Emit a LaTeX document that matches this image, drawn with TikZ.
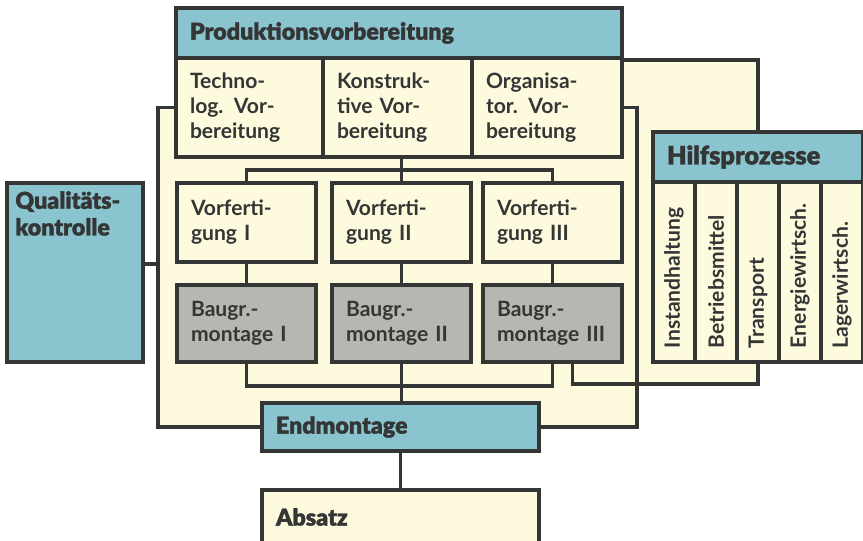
\documentclass[tikz,border=0pt]{standalone}
\usepackage{fontspec}
\setmainfont{Lato}
\newfontfamily\heavyfont[FakeBold=1.4]{Lato Black}

\definecolor{paper}{RGB}{253,250,222}
\definecolor{cyanish}{RGB}{138,196,206}
\definecolor{stone}{RGB}{184,182,176}
\definecolor{ink}{RGB}{52,54,54}

\tikzset{
  cell/.style={draw=ink, line width=2.8pt, fill=paper, align=left, text=ink,
    inner xsep=0.35cm, inner ysep=0pt, font=\bfseries\fontsize{15}{17.8}\selectfont},
  title/.style={cell, font=\heavyfont\fontsize{16.5}{19}\selectfont},
  head/.style={title, fill=cyanish},
  part/.style={cell, fill=stone},
  link/.style={draw=ink, line width=2.8pt},
}

\begin{document}
\begin{tikzpicture}
  \useasboundingbox (0,0) rectangle (21.575,13.5);
  % pale ground behind the production block
  \fill[paper] (3.95,10.8125) -- (4.4,10.8125) -- (4.4,12.05) -- (18.95,12.05)
    -- (18.95,10.2) -- (16.325,10.2) -- (16.325,4.45) -- (18.95,4.45)
    -- (18.95,3.95) -- (15.925,3.95) -- (15.925,2.8) -- (3.95,2.8) -- cycle;
  \coordinate (lbar) at (3.95,10.8125);
  \coordinate (rbar) at (15.925,10.8125);

  % preparation
  \node[head, text width=10.45cm, minimum height=1.25cm] (prod) at (9.975,12.675) {Produktionsvorbereitung};
  \node[cell, text width=2.975cm, minimum height=2.475cm] (tech) at (6.2375,10.8125) {Techno-\\log. Vor-\\bereitung};
  \node[cell, text width=3.025cm, minimum height=2.475cm] (kons) at (9.9375,10.8125) {Konstruk-\\tive Vor-\\bereitung};
  \node[cell, text width=3.05cm, minimum height=2.475cm] (orga) at (13.675,10.8125) {Organisa-\\tor. Vor-\\bereitung};

  % manufacturing rows
  \node[cell, text width=2.775cm, minimum height=1.975cm] (vor1) at (6.1625,7.9375) {Vorferti-\\gung I};
  \node[cell, text width=2.775cm, minimum height=1.975cm] (vor2) at (10.0375,7.9375) {Vorferti-\\gung II};
  \node[cell, text width=2.775cm, minimum height=1.975cm] (vor3) at (13.8125,7.9375) {Vorferti-\\gung III};
  \node[part, text width=2.775cm, minimum height=1.925cm] (bg1) at (6.1625,5.4125) {Baugr.-\\montage I};
  \node[part, text width=2.775cm, minimum height=1.925cm] (bg2) at (10.0375,5.4125) {Baugr.-\\montage II};
  \node[part, text width=2.775cm, minimum height=1.925cm] (bg3) at (13.8125,5.4125) {Baugr.-\\montage III};

  \node[head, text width=6.225cm, minimum height=1.2cm] (endm) at (10.0125,2.825) {Endmontage};
  \node[title, text width=6.225cm, minimum height=1.35cm] (absatz) at (10.0125,0.575) {Absatz};

  % quality control, text sits at the top
  \node[head, text width=2.7cm, minimum height=4.475cm] (qual) at (1.875,6.6875) {};
  \node[anchor=north west, align=left, text=ink, inner sep=0.25cm,
    font=\heavyfont\fontsize{16.5}{19}\selectfont] (qualtxt) at (qual.north west) {Qualitäts-\\kontrolle};

  % auxiliary processes
  \node[head, text width=4.55cm, minimum height=1.25cm, font=\heavyfont\fontsize{18}{20}\selectfont] (hilf) at (18.95,9.575) {Hilfsprozesse};
  \foreach \txt [count=\i] in {Instandhaltung, Betriebsmittel, Transport, Energiewirtsch., Lagerwirtsch.}
    \node[cell, rotate=90, text width=3.8cm, minimum height=1.05cm] (h\i) at ({16.85+1.05*(\i-1)},6.7) {\txt};

  % connections
  \draw[link] (tech.west) -- (lbar) |- (endm.west);
  \draw[link] (orga.east) -- (rbar) |- (endm.east);
  \draw[link] (qual.east |- vor1.south) -- (lbar |- vor1.south);
  \draw[link] (prod.south east) -| (hilf.north);
  \draw[link] (vor2.north |- kons.south) -- (vor2.north);
  \draw[link] (vor1.north) -- ++(0,0.275) -| (vor3.north);
  \foreach \i in {1,2,3} \draw[link] (vor\i.south) -- (bg\i.north);
  \draw[link] (bg1.south) -- ++(0,-0.55) -| (bg3.south);
  \draw[link] (bg2.south) -- (bg2.south |- endm.north);
  \draw[link] ([xshift=0.5cm]bg3.south) -- ++(0,-0.5) -| (h3.west);
  \draw[link] (endm.south) -- (absatz.north);
\end{tikzpicture}
\end{document}
